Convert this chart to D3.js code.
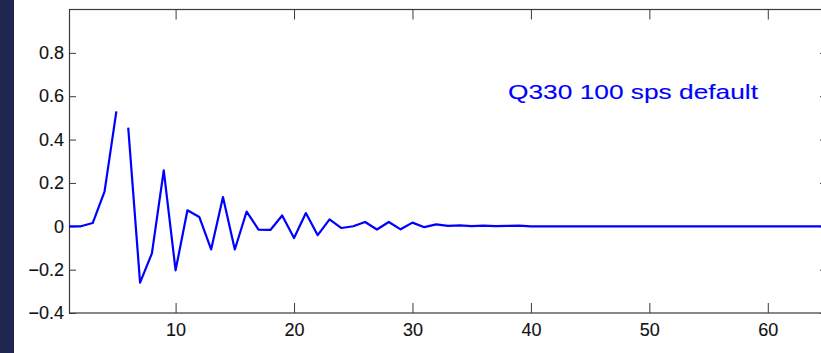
<!DOCTYPE html>
<html>
<head>
<meta charset="utf-8">
<script src="https://cdn.jsdelivr.net/npm/d3@7"></script>
<style>
  html, body { margin: 0; padding: 0; background: #ffffff; }
  svg { display: block; }
  text { font-family: "Liberation Sans", Arial, sans-serif; }
</style>
</head>
<body>
<svg id="chart" width="821" height="353"></svg>
<script>
// ---- data ----
const sampleIndex = d3.range(1, 66);
const responseValues = [
  0, 0, 0.015, 0.16, 0.53, 0.455, -0.26, -0.125, 0.258, -0.203,
  0.074, 0.043, -0.107, 0.135, -0.107, 0.068, -0.015, -0.017, 0.05, -0.054,
  0.061, -0.041, 0.032, -0.008, 0.0, 0.02, -0.015, 0.02, -0.014, 0.017,
  -0.004, 0.009, 0.002, 0.004, 0.001, 0.003, 0.001, 0.002, 0.003, 0,
  0, 0, 0, 0, 0, 0, 0, 0, 0, 0,
  0, 0, 0, 0, 0, 0, 0, 0, 0, 0,
  0, 0, 0, 0, 0
];
const lineBreakAfter = [5];           // the trace is broken between samples 5 and 6
const xTickValues = [10, 20, 30, 40, 50, 60];
const yTickValues = [-0.4, -0.2, 0, 0.2, 0.4, 0.6, 0.8];
const xDomain = [1, 65];
const yDomain = [-0.4, 1];
const annotation = "Q330 100 sps default";

// ---- layout ----
const svg = d3.select("#chart");
const plot = { left: 69, right: 827, top: 9.5, bottom: 313 };

svg.append("rect").attr("x", 0).attr("y", 0).attr("width", 14).attr("height", 353)
  .attr("fill", "#1f2650");

const x = d3.scaleLinear().domain(xDomain).range([plot.left, plot.right]);
const y = d3.scaleLinear().domain(yDomain).range([plot.bottom, plot.top]);

svg.append("rect").attr("x", plot.left).attr("y", plot.top)
  .attr("width", plot.right - plot.left).attr("height", plot.bottom - plot.top)
  .attr("fill", "#fff");

const fmtY = d => d === 0 ? "0" : d3.format(".1f")(d).replace("-", "\u2212");
const axisColor = "#3a3a3a";

function styleAxis(g) {
  g.attr("font-size", 18).attr("font-family", "'Liberation Sans', Arial, sans-serif");
  g.select(".domain").remove();
  g.selectAll(".tick line").attr("stroke", axisColor).attr("stroke-width", 1);
  g.selectAll(".tick text").attr("fill", "#111").attr("font-size", 18)
    .attr("stroke", "#111").attr("stroke-width", 0.12);
}

const gx = svg.append("g").attr("transform", `translate(0,${plot.bottom})`)
  .call(d3.axisBottom(x).tickValues(xTickValues).tickSizeInner(-10).tickSizeOuter(0).tickPadding(14).tickFormat(d3.format("d")));
styleAxis(gx);
gx.selectAll(".tick text").attr("dy", "0.71em").attr("y", 10);

const gxt = svg.append("g").attr("transform", `translate(0,${plot.top})`)
  .call(d3.axisTop(x).tickValues(xTickValues).tickSizeInner(-10).tickSizeOuter(0).tickFormat(""));
styleAxis(gxt);

const gy = svg.append("g").attr("transform", `translate(${plot.left},0)`)
  .call(d3.axisLeft(y).tickValues(yTickValues).tickSizeInner(-7).tickSizeOuter(0).tickPadding(6).tickFormat(fmtY));
styleAxis(gy);
gy.selectAll(".tick text").attr("x", -5);

const gyr = svg.append("g").attr("transform", `translate(${plot.right},0)`)
  .call(d3.axisRight(y).tickValues(yTickValues).tickSizeInner(-7).tickSizeOuter(0).tickFormat(""));
styleAxis(gyr);

svg.append("rect").attr("x", plot.left + 0.5).attr("y", plot.top)
  .attr("width", plot.right - plot.left).attr("height", plot.bottom - plot.top)
  .attr("fill", "none").attr("stroke", axisColor).attr("stroke-width", 1.2);

const points = sampleIndex.map((i, k) => ({ i, v: responseValues[k] }));
const segments = [];
let cur = [];
points.forEach(p => {
  cur.push(p);
  if (lineBreakAfter.includes(p.i)) { segments.push(cur); cur = []; }
});
if (cur.length) segments.push(cur);

const line = d3.line().x(d => x(d.i)).y(d => y(d.v));
svg.append("g").selectAll("path").data(segments).join("path")
  .attr("d", line)
  .attr("fill", "none")
  .attr("stroke", "#0000ff")
  .attr("stroke-width", 2.2)
  .attr("stroke-linejoin", "round");

svg.append("text")
  .attr("x", 508).attr("y", 99)
  .attr("fill", "#0000ff")
  .attr("stroke", "#0000ff").attr("stroke-width", 0.12)
  .attr("font-size", 21)
  .attr("textLength", 250)
  .attr("lengthAdjust", "spacingAndGlyphs")
  .text(annotation);
</script>
</body>
</html>
